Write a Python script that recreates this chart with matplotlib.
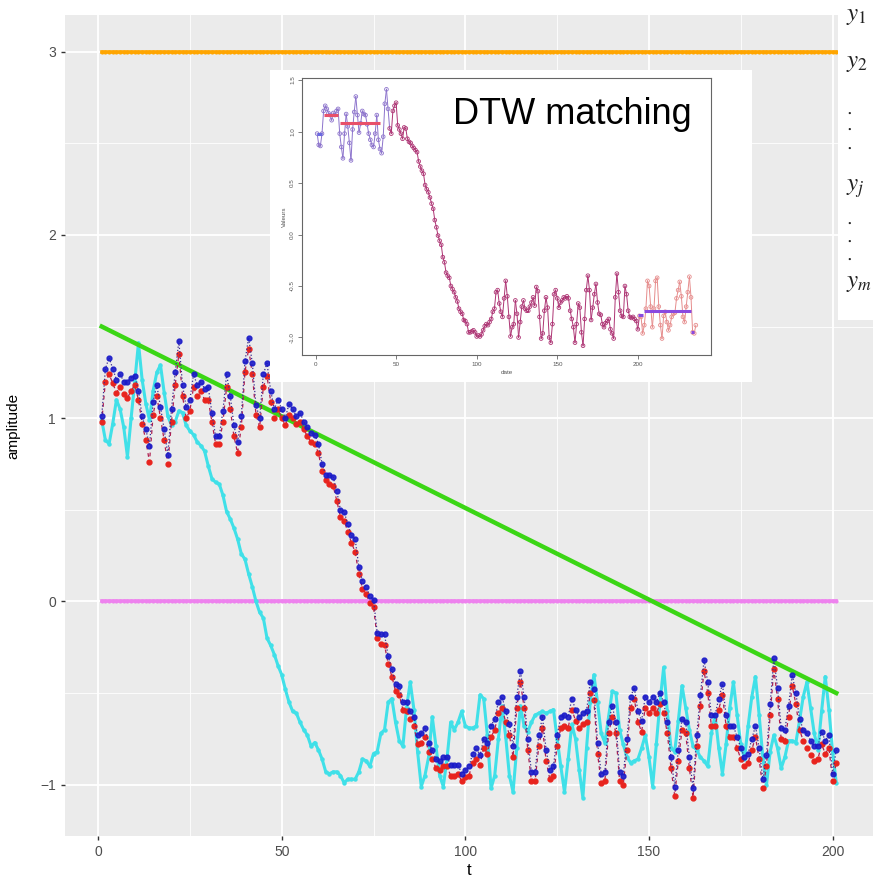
import numpy as np
import matplotlib
matplotlib.use("Agg")
import matplotlib.pyplot as plt

plt.rcParams['font.family'] = ['Liberation Sans', 'DejaVu Sans']
plt.rcParams['mathtext.fontset'] = 'stix'

# ---- main panel data (t = 1..201) ----
blue = [1.01, 1.27, 1.33, 1.27, 1.21, 1.24, 1.20, 1.20, 1.22, 1.23,
        1.15, 1.01, 0.94, 0.85, 1.09, 1.18, 1.06, 0.94, 0.80, 1.05,
        1.25, 1.42, 1.18, 1.06, 1.10, 1.24, 1.18, 1.20, 1.16, 1.17,
        1.03, 0.90, 0.90, 1.04, 1.24, 1.12, 0.96, 0.87, 1.01, 1.31,
        1.44, 1.30, 1.07, 1.00, 1.24, 1.30, 1.15, 1.05, 1.10, 1.05,
        1.00, 1.08, 1.05, 1.01, 1.03, 0.98, 0.95, 0.92, 0.91, 0.86,
        0.75, 0.69, 0.69, 0.68, 0.60, 0.50, 0.49, 0.42, 0.36, 0.34,
        0.19, 0.11, 0.08, 0.03, 0.01, -0.17, -0.18, -0.18, -0.30, -0.37,
        -0.45, -0.46, -0.55, -0.55, -0.60, -0.63, -0.73, -0.72, -0.69, -0.77,
        -0.81, -0.86, -0.87, -0.85, -0.85, -0.89, -0.89, -0.89, -0.94, -0.92,
        -0.90, -0.83, -0.80, -0.84, -0.75, -0.77, -0.68, -0.64, -0.55, -0.52,
        -0.60, -0.67, -0.79, -0.52, -0.38, -0.52, -0.75, -0.93, -0.93, -0.73,
        -0.63, -0.81, -0.92, -0.90, -0.73, -0.63, -0.62, -0.63, -0.53, -0.59,
        -0.63, -0.61, -0.60, -0.44, -0.48, -0.77, -0.94, -0.93, -0.66, -0.57,
        -0.66, -0.93, -0.95, -0.75, -0.52, -0.47, -0.60, -0.65, -0.52, -0.55,
        -0.52, -0.55, -0.50, -0.55, -0.66, -0.85, -1.01, -0.81, -0.64, -0.66,
        -0.85, -1.02, -0.73, -0.51, -0.32, -0.44, -0.62, -0.62, -0.53, -0.45,
        -0.62, -0.68, -0.68, -0.74, -0.80, -0.85, -0.83, -0.75, -0.68, -0.80,
        -0.97, -0.84, -0.56, -0.31, -0.47, -0.69, -0.70, -0.57, -0.40, -0.50,
        -0.64, -0.70, -0.72, -0.76, -0.79, -0.79, -0.71, -0.76, -0.73, -0.94,
        -0.81]

red = [0.98, 1.20, 1.24, 1.19, 1.14, 1.17, 1.13, 1.11, 1.15, 1.18,
       1.10, 0.97, 0.88, 0.76, 1.02, 1.12, 1.00, 0.88, 0.75, 0.98,
       1.18, 1.35, 1.12, 1.00, 1.04, 1.17, 1.12, 1.15, 1.10, 1.10,
       0.98, 0.86, 0.86, 0.98, 1.17, 1.05, 0.90, 0.81, 0.95, 1.25,
       1.38, 1.24, 1.02, 0.95, 1.17, 1.23, 1.09, 1.00, 1.05, 1.00,
       0.96, 1.02, 1.00, 0.97, 0.98, 0.94, 0.90, 0.87, 0.86, 0.81,
       0.71, 0.66, 0.64, 0.63, 0.55, 0.46, 0.44, 0.38, 0.32, 0.27,
       0.15, 0.07, 0.04, -0.01, -0.03, -0.20, -0.23, -0.24, -0.34, -0.41,
       -0.49, -0.51, -0.59, -0.60, -0.64, -0.68, -0.78, -0.77, -0.74, -0.82,
       -0.86, -0.91, -0.92, -0.90, -0.90, -0.95, -0.95, -0.94, -0.98, -0.96,
       -0.95, -0.88, -0.86, -0.89, -0.80, -0.83, -0.74, -0.70, -0.61, -0.58,
       -0.66, -0.73, -0.85, -0.58, -0.44, -0.58, -0.81, -0.98, -0.98, -0.79,
       -0.69, -0.87, -0.97, -0.95, -0.79, -0.69, -0.68, -0.69, -0.59, -0.65,
       -0.69, -0.67, -0.66, -0.50, -0.54, -0.83, -0.99, -0.98, -0.72, -0.63,
       -0.72, -0.98, -1.00, -0.81, -0.58, -0.53, -0.66, -0.71, -0.58, -0.61,
       -0.58, -0.61, -0.56, -0.61, -0.72, -0.91, -1.06, -0.87, -0.70, -0.72,
       -0.91, -1.07, -0.79, -0.57, -0.38, -0.50, -0.68, -0.68, -0.59, -0.51,
       -0.68, -0.74, -0.74, -0.80, -0.86, -0.90, -0.88, -0.81, -0.74, -0.86,
       -1.02, -0.90, -0.62, -0.37, -0.53, -0.75, -0.76, -0.63, -0.46, -0.56,
       -0.70, -0.76, -0.80, -0.84, -0.87, -0.86, -0.78, -0.83, -0.80, -0.98,
       -0.88]

cyan = [0.99, 0.88, 0.86, 0.97, 1.10, 1.05, 0.95, 0.79, 1.00, 1.20,
        1.41, 1.21, 1.08, 0.99, 1.15, 1.25, 1.29, 1.14, 1.01, 0.96,
        0.98, 1.04, 1.03, 0.96, 0.93, 0.91, 0.87, 0.85, 0.82, 0.74,
        0.67, 0.65, 0.64, 0.58, 0.49, 0.45, 0.40, 0.34, 0.26, 0.23,
        0.15, 0.08, 0.00, -0.06, -0.09, -0.20, -0.24, -0.29, -0.35, -0.40,
        -0.48, -0.55, -0.60, -0.61, -0.66, -0.70, -0.73, -0.79, -0.77, -0.81,
        -0.86, -0.93, -0.94, -0.93, -0.93, -0.95, -0.99, -0.97, -0.97, -0.97,
        -0.93, -0.86, -0.87, -0.90, -0.83, -0.82, -0.72, -0.70, -0.55, -0.53,
        -0.66, -0.76, -0.79, -0.58, -0.44, -0.59, -0.82, -1.01, -0.95, -0.85,
        -0.63, -0.79, -0.95, -1.01, -0.86, -0.66, -0.70, -0.66, -0.60, -0.68,
        -0.69, -0.69, -0.68, -0.51, -0.53, -0.73, -1.02, -0.95, -0.75, -0.57,
        -0.74, -0.95, -1.04, -0.80, -0.57, -0.68, -0.71, -0.66, -0.62, -0.61,
        -0.60, -0.61, -0.60, -0.59, -0.75, -0.90, -1.04, -0.86, -0.67, -0.75,
        -0.92, -1.07, -0.80, -0.55, -0.40, -0.55, -0.72, -0.77, -0.63, -0.49,
        -0.50, -0.70, -0.78, -0.85, -0.88, -0.87, -0.86, -0.80, -0.73, -0.85,
        -1.01, -0.78, -0.55, -0.36, -0.60, -0.80, -0.82, -0.65, -0.46, -0.58,
        -0.70, -0.79, -0.81, -0.85, -0.87, -0.90, -0.72, -0.62, -0.80, -0.94,
        -0.78, -0.58, -0.44, -0.62, -0.78, -0.86, -0.68, -0.52, -0.41, -0.62,
        -0.85, -1.00, -0.82, -0.73, -0.80, -0.91, -0.85, -0.76, -0.76, -0.77,
        -0.65, -0.52, -0.44, -0.58, -0.72, -0.81, -0.60, -0.41, -0.59, -0.82,
        -0.99]

t = np.arange(1, len(blue) + 1)
orange_level = 3.0
violet_level = 0.0
green_start, green_end = 1.5, -0.5

# ---- inset data (date = 1..236) ----
inset_vals = [0.98, 0.87, 0.86, 0.98, 1.20, 1.25, 1.22, 1.18, 1.16, 1.11,
              1.18, 1.16, 1.20, 1.22, 0.98, 0.85, 0.74, 0.98, 1.17, 1.05,
              0.89, 0.72, 1.02, 1.19, 1.34, 1.16, 0.99, 1.08, 1.20, 1.17,
              1.16, 1.07, 0.98, 0.92, 0.87, 0.85, 0.98, 1.16, 0.92, 0.83,
              0.79, 0.95, 1.27, 1.41, 1.22, 1.03, 0.98, 1.20, 1.25, 1.28,
              1.06, 1.02, 0.98, 0.93, 1.04, 1.03, 0.93, 0.90, 0.89, 0.86,
              0.84, 0.82, 0.80, 0.71, 0.66, 0.62, 0.59, 0.48, 0.44, 0.41,
              0.36, 0.30, 0.25, 0.14, 0.07, -0.01, -0.06, -0.10, -0.22, -0.27,
              -0.37, -0.40, -0.42, -0.50, -0.53, -0.56, -0.61, -0.65, -0.72, -0.75,
              -0.77, -0.83, -0.84, -0.87, -0.95, -0.95, -0.94, -0.93, -0.95, -0.99,
              -0.98, -0.99, -0.97, -0.93, -0.89, -0.87, -0.88, -0.85, -0.82, -0.75,
              -0.72, -0.56, -0.54, -0.67, -0.75, -0.80, -0.62, -0.45, -0.60, -0.80,
              -0.99, -0.90, -0.87, -0.64, -0.77, -1.00, -0.85, -0.70, -0.64, -0.72,
              -0.74, -0.74, -0.70, -0.66, -0.61, -0.69, -0.51, -0.55, -0.80, -1.01,
              -0.96, -0.74, -0.61, -0.71, -1.00, -1.05, -0.87, -0.58, -0.54, -0.62,
              -0.71, -0.66, -0.64, -0.61, -0.62, -0.60, -0.62, -0.74, -0.82, -0.90,
              -1.05, -0.87, -0.67, -0.71, -0.95, -1.08, -0.82, -0.54, -0.40, -0.54,
              -0.83, -0.71, -0.58, -0.48, -0.66, -0.77, -0.78, -0.87, -0.90, -0.86,
              -0.84, -0.82, -0.92, -0.96, -1.01, -0.61, -0.38, -0.56, -0.74, -0.79,
              -0.80, -0.50, -0.58, -0.74, -0.80, -0.81, -0.80, -0.82, -0.84, -0.92,
              -0.79, -0.80, -0.96, -0.88, -0.72, -0.45, -0.50, -0.70, -0.90, -0.72,
              -0.45, -0.42, -0.70, -0.88, -1.01, -0.79, -0.75, -0.85, -0.93, -0.88,
              -0.80, -0.77, -0.76, -0.62, -0.54, -0.46, -0.60, -0.80, -0.85, -0.70,
              -0.56, -0.41, -0.61, -0.95, -0.96, -0.88]
dates = np.arange(1, len(inset_vals) + 1)

# matched (flattened) segments: (start, end, level, colour)
segments = [(1, 4, 0.98, '#6a6ae0'), (5, 14, 1.16, '#e8506a'),
            (15, 40, 1.08, '#e8506a'), (200, 203, -0.78, '#8a4ae0'),
            (204, 233, -0.74, '#8a4ae0'), (233, 235, -0.95, '#8a4ae0')]

labels_right = ['$y_1$', '$y_2$', '$\\cdot$', '$\\cdot$', '$\\cdot$', '$y_j$',
                '$\\cdot$', '$\\cdot$', '$\\cdot$', '$y_m$']
labels_right_px = [15, 62, 112, 128, 147, 188, 222, 240, 258, 282]

W, H = 876, 886
fig = plt.figure(figsize=(W / 100, H / 100), dpi=100, facecolor='white')

def box(x0, y0, x1, y1):
    return [x0 / W, 1 - y1 / H, (x1 - x0) / W, (y1 - y0) / H]

ax = fig.add_axes(box(65, 15, 873, 836))
ax.set_facecolor('#EBEBEB')
ax.set_xlim(-9, 211)
ax.set_ylim(-1.28, 3.2)
ax.set_xticks([0, 50, 100, 150, 200])
ax.set_xticks([25, 75, 125, 175], minor=True)
ax.set_yticks([-1, 0, 1, 2, 3])
ax.set_yticks([-0.5, 0.5, 1.5, 2.5], minor=True)
ax.set_yticklabels(['\u22121', '0', '1', '2', '3'])
ax.grid(which='major', color='white', linewidth=1.3)
ax.grid(which='minor', color='white', linewidth=0.6)
ax.set_axisbelow(True)
for s in ax.spines.values():
    s.set_visible(False)
ax.tick_params(which='major', length=3, width=1, color='#333333',
               labelcolor='#4D4D4D', labelsize=10)
ax.tick_params(which='minor', length=0)
ax.set_xlabel('t', fontsize=12, labelpad=3)
ax.set_ylabel('amplitude', fontsize=11, labelpad=14)

ax.plot(t, np.full(len(t), orange_level), color='#FFA500', lw=2.6,
        marker='o', ms=2, zorder=3)
ax.plot(t, np.full(len(t), violet_level), color='#EE82EE', lw=2.6,
        marker='o', ms=2, zorder=3)
ax.plot(t, cyan, color='#40E0E8', lw=2.2, marker='o', ms=2.2, zorder=4)
ax.plot(t, np.linspace(green_start, green_end, len(t)), color='#3BD615',
        lw=3.2, zorder=5)
ax.plot(t, red, color='#B02050', lw=0.9, ls=(0, (3, 3)), zorder=6)
ax.plot(t, red, ls='none', marker='o', ms=3.5, color='#E8241E', zorder=6)
ax.plot(t, blue, color='#3A2A90', lw=0.9, ls=':', zorder=7)
ax.plot(t, blue, ls='none', marker='o', ms=3.5, color='#1A1AC8', zorder=7,
        alpha=0.9)

# ---- inset (white card + base-R style plot) ----
card = fig.add_axes(box(270, 70, 752, 382))
card.set_facecolor('white')
card.set_xticks([])
card.set_yticks([])
for s in card.spines.values():
    s.set_visible(False)

ins = fig.add_axes(box(302, 78, 711, 355))
ins.set_facecolor('white')
ins.set_xlim(-8.4, 245.4)
ins.set_ylim(-1.17, 1.52)
for s in ins.spines.values():
    s.set_color('#666666')
    s.set_linewidth(0.8)
ins.set_xticks([0, 50, 100, 150, 200])
ins.set_yticks([-1.0, -0.5, 0.0, 0.5, 1.0, 1.5])
ins.set_yticklabels(['-1.0', '-0.5', '0.0', '0.5', '1.0', '1.5'],
                    rotation=90, va='center')
ins.tick_params(length=3, width=0.6, color='#666666', labelsize=4.5,
                labelcolor='#555555', pad=2)
ins.set_xlabel('date', fontsize=4.5, color='#555555', labelpad=2)
ins.set_ylabel('Valeurs', fontsize=4.5, color='#555555', labelpad=2)

cols = []
for d in dates:
    if d <= 45:
        cols.append((0.55, 0.45, 0.80))
    elif d <= 200:
        cols.append((0.68, 0.20, 0.45))
    else:
        cols.append((0.90, 0.55, 0.55))
for i in range(len(dates) - 1):
    ins.plot(dates[i:i + 2], inset_vals[i:i + 2], color=cols[i], lw=0.7)
ins.scatter(dates, inset_vals, s=7, facecolors='none', edgecolors=cols,
            linewidths=0.6, zorder=3)
for x0, x1, lev, c in segments:
    ins.plot([x0, x1], [lev, lev], color=c, lw=2.2, solid_capstyle='butt',
             zorder=4)

fig.text(572 / W, 1 - 114 / H, 'DTW matching', fontsize=26, ha='center',
         va='center', color='black')

# ---- right label strip ----
strip = fig.add_axes(box(838, 0, 876, 320))
strip.set_facecolor('white')
strip.set_xticks([])
strip.set_yticks([])
for s in strip.spines.values():
    s.set_visible(False)
for lab, py in zip(labels_right, labels_right_px):
    fs = 18 if 'y' in lab else 14
    fig.text(846 / W, 1 - py / H, lab, fontsize=fs, ha='left', va='center',
             color='#222222')

fig.savefig('out.png', dpi=100, facecolor='white')
